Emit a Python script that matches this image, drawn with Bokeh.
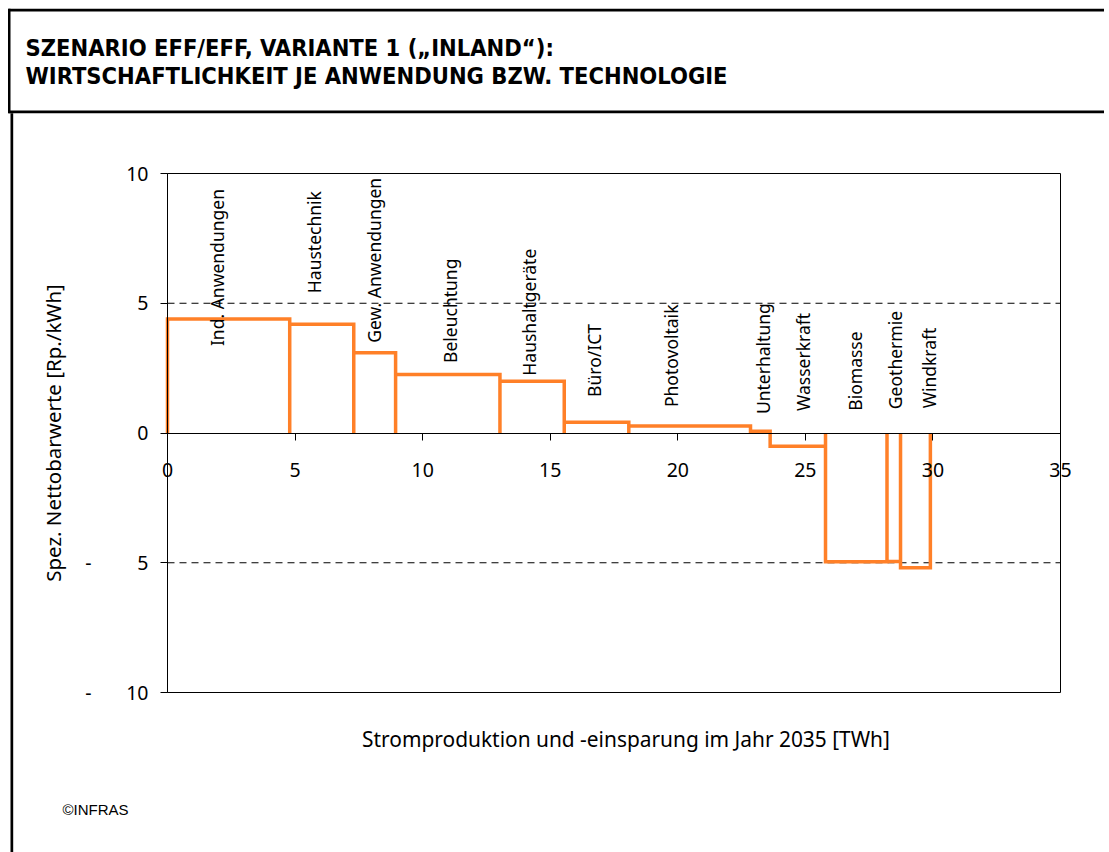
import numpy as np
from bokeh.plotting import figure
from bokeh.models import Range1d, LinearAxis, FixedTicker, Label, Grid
from bokeh.core.properties import value
from bokeh.embed import file_html
from bokeh.resources import INLINE

# ---------------- data ----------------
categories = ["Ind. Anwendungen", "Haustechnik", "Gew. Anwendungen", "Beleuchtung",
              "Haushaltgeräte", "Büro/ICT", "Photovoltaik", "Unterhaltung",
              "Wasserkraft", "Biomasse", "Geothermie", "Windkraft"]
widths_twh = [4.79, 2.51, 1.64, 4.09, 2.52, 2.53, 4.77, 0.77, 2.17, 2.41, 0.53, 1.17]
values_rp = [4.39, 4.19, 3.09, 2.25, 1.99, 0.41, 0.27, 0.07, -0.51, -4.96, -4.95, -5.19]

x_ticks = [0, 5, 10, 15, 20, 25, 30, 35]
y_ticks = [-10, -5, 0, 5, 10]
y_tick_labels = ["10", "5", "0", "5", "10"]
neg_ticks = [-10, -5]
dashed_levels = [-5, 5]

title_lines = ["SZENARIO EFF/EFF, VARIANTE 1 (\u201eINLAND\u201c):",
               "WIRTSCHAFTLICHKEIT JE ANWENDUNG BZW. TECHNOLOGIE"]
x_title = "Stromproduktion und -einsparung im Jahr 2035 [TWh]"
y_title = "Spez. Nettobarwerte [Rp./kWh]"
source_note = "\u00a9INFRAS"

# label anchors (layout): x centre and start height of each rotated label
label_x = [1.94, 5.73, 8.09, 11.09, 14.15, 16.70, 19.74, 23.33, 24.90, 26.93, 28.53, 29.84]
label_y = [3.35, 5.39, 3.48, 2.70, 2.21, 1.39, 1.00, 0.73, 0.85, 0.86, 0.92, 0.95]

# ---------------- geometry (canvas pixels) ----------------
W, H = 1104, 852
BOX_L, BOX_R, BOX_T, BOX_B = 167, 1060, 173, 692
XMIN, XMAX = x_ticks[0], x_ticks[-1]
YMIN, YMAX = y_ticks[0], y_ticks[-1]
SX = (XMAX - XMIN) / (BOX_R - BOX_L)
SY = (YMAX - YMIN) / (BOX_B - BOX_T)

def cx(px):
    return XMIN + (px - BOX_L) * SX

def cy(py):
    return YMAX - (py - BOX_T) * SY

FONT = "Noto Sans"
ORANGE = "#FF8028"

p = figure(width=W, height=H,
           x_range=Range1d(cx(0), cx(W)), y_range=Range1d(cy(H), cy(0)),
           output_backend="svg", toolbar_location=None,
           x_axis_location=None, y_axis_location=None,
           min_border=0)
p.outline_line_color = None
p.background_fill_color = "white"
p.border_fill_color = "white"
p.center = [r for r in p.center if not isinstance(r, Grid)]

# plot area box and dashed reference lines
p.quad(left=[XMIN], right=[XMAX], bottom=[YMIN], top=[YMAX],
       fill_color=None, line_color="black", line_width=1)
p.segment(x0=[XMIN] * len(dashed_levels), x1=[XMAX] * len(dashed_levels),
          y0=dashed_levels, y1=dashed_levels,
          line_color="black", line_width=1, line_dash="7 5")

# step outline built from widths and values
edges = np.concatenate([[0.0], np.cumsum(widths_twh)])
xs, ys = [], []
for i, v in enumerate(values_rp):
    xs += [edges[i], edges[i], edges[i + 1], edges[i + 1]]
    ys += [0.0, v, v, 0.0]
p.line(xs, ys, line_color=ORANGE, line_width=3.5, line_join="miter")

# y axis at x = 0
yax = LinearAxis(ticker=FixedTicker(ticks=y_ticks), fixed_location=XMIN, bounds=(YMIN, YMAX),
                 major_label_overrides={t: l for t, l in zip(y_ticks, y_tick_labels)},
                 major_tick_out=7, major_tick_in=0, minor_tick_out=0, minor_tick_in=0,
                 major_label_standoff=12, axis_line_color="black",
                 major_tick_line_color="black",
                 major_label_text_font=FONT, major_label_text_font_size="19.5px",
                 major_label_text_color="black",
                 axis_label=y_title, axis_label_standoff=56,
                 axis_label_text_font=FONT, axis_label_text_font_size="20.5px",
                 axis_label_text_font_style="normal", axis_label_text_color="black")
p.add_layout(yax, "left")

# detached minus signs of the negative tick labels
p.text(x=[XMIN] * len(neg_ticks), y=neg_ticks, text=["-"] * len(neg_ticks),
       x_offset=-79, text_align="center", text_baseline="middle",
       text_font=value(FONT), text_font_size="19.5px", text_color="black")

# x axis crossing at y = 0
xax = LinearAxis(ticker=FixedTicker(ticks=x_ticks), fixed_location=0, bounds=(XMIN, XMAX),
                 major_tick_out=7, major_tick_in=0, minor_tick_out=0, minor_tick_in=0,
                 major_label_standoff=23, axis_line_color="black",
                 major_tick_line_color="black",
                 major_label_text_font=FONT, major_label_text_font_size="19.5px",
                 major_label_text_color="black")
p.add_layout(xax, "below")

# x title under the plot area (its extent is nudged so the title sits where the original has it)
title_shift = 12 * SX
xtitle = LinearAxis(ticker=FixedTicker(ticks=[]), fixed_location=YMIN,
                    bounds=(XMIN + title_shift, XMAX + title_shift),
                    axis_line_color=None,
                    major_tick_out=0, major_tick_in=0, minor_tick_out=0, minor_tick_in=0,
                    axis_label=x_title, axis_label_standoff=32,
                    axis_label_text_font=FONT, axis_label_text_font_size="20.9px",
                    axis_label_text_font_style="normal", axis_label_text_color="black")
p.add_layout(xtitle, "below")

# rotated category labels
p.text(x=label_x, y=label_y, text=categories, angle=np.pi / 2,
       text_align="left", text_baseline="middle",
       text_font=value(FONT), text_font_size="17.5px", text_color="black")

# title block and frame lines (decoration, in canvas pixels)
rules = [(8, W, 8.3, 11), (8, W, 110, 112.7), (7.5, 10, 8.3, 112.7), (10, 12.7, 112.7, H)]
p.quad(left=[cx(r[0]) for r in rules], right=[cx(r[1]) for r in rules],
       top=[cy(r[2]) for r in rules], bottom=[cy(r[3]) for r in rules],
       fill_color="black", line_color=None)

for i, txt in enumerate(title_lines):
    p.add_layout(Label(x=cx(25), y=cy(47.5 + 28 * i), text=txt, text_baseline="middle",
                       text_font="DejaVu Sans Condensed", text_font_style="bold",
                       text_font_size="23.5px", text_color="black"))

p.add_layout(Label(x=cx(62), y=cy(809), text=source_note, text_baseline="middle",
                   text_font="Liberation Sans", text_font_size="15px", text_color="black"))

open("out.html", "w").write(file_html(p, INLINE))
